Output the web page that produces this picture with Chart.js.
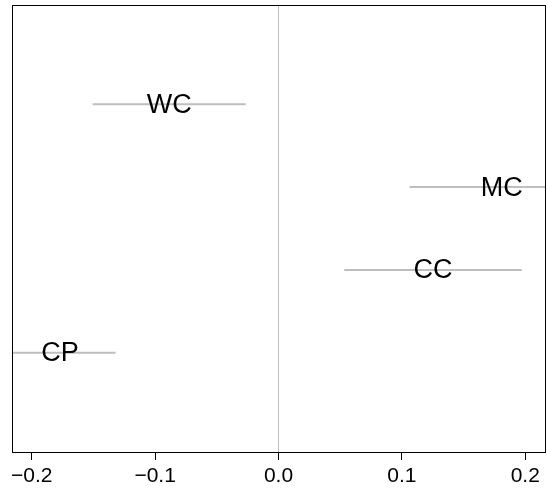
<!DOCTYPE html>
<html>
<head>
<meta charset="utf-8">
<script src="https://cdn.jsdelivr.net/npm/chart.js@4"></script>
<style>
  body { margin: 0; background: #fff; }
  canvas { display: block; }
</style>
</head>
<body>
<canvas id="chart" width="547" height="492"></canvas>
<script>
// groups, top to bottom
const groups = ['WC', 'MC', 'CC', 'CP'];
const rowPos = [4, 3, 2, 1];
const centers = [-0.0886, 0.1810, 0.1253, -0.1770];
const lows = [-0.1507, 0.1063, 0.0533, -0.2220];
const highs = [-0.0265, 0.2557, 0.1972, -0.1320];
const xTicks = [-0.2, -0.1, 0.0, 0.1, 0.2];

const FONT = "'Liberation Sans', Arial, sans-serif";

const datasets = groups.map((g, i) => ({
    label: g,
    data: [{ x: lows[i], y: rowPos[i] }, { x: highs[i], y: rowPos[i] }],
    showLine: true,
    borderColor: '#bebebe',
    borderWidth: 2,
    pointRadius: 0,
}));

// group names written on the segments, plus the box round the plot
const labelPlugin = {
    id: 'labels',
    afterDatasetsDraw(chart) {
        const { ctx, scales } = chart;
        ctx.save();
        ctx.font = '27px ' + FONT;
        ctx.fillStyle = '#000';
        ctx.textAlign = 'center';
        ctx.textBaseline = 'middle';
        groups.forEach((g, i) => {
            ctx.fillText(g, scales.x.getPixelForValue(centers[i]), scales.y.getPixelForValue(rowPos[i]) + 1);
        });
        ctx.restore();
    },
    afterDraw(chart) {
        const a = chart.chartArea;
        const ctx = chart.ctx;
        ctx.save();
        ctx.strokeStyle = '#000';
        ctx.lineWidth = 1;
        ctx.strokeRect(Math.round(a.left) + 0.5, Math.round(a.top) + 0.5,
            Math.round(a.right - a.left), Math.round(a.bottom - a.top));
        ctx.restore();
    }
};

new Chart(document.getElementById('chart'), {
    type: 'scatter',
    data: { datasets: datasets },
    options: {
        responsive: false,
        animation: false,
        layout: { padding: { left: 12, top: 5, right: 2, bottom: 0 } },
        plugins: { legend: { display: false }, tooltip: { enabled: false } },
        scales: {
            x: {
                type: 'linear',
                min: -0.216,
                max: 0.216,
                afterBuildTicks: (scale) => { scale.ticks = xTicks.map(v => ({ value: v })); },
                afterFit: (scale) => { scale.height = 40; },
                border: { display: false },
                grid: {
                    color: (c) => (c.tick && c.tick.value === 0 ? '#bebebe' : 'rgba(0,0,0,0)'),
                    tickColor: '#000',
                    tickLength: 8,
                    lineWidth: 1,
                },
                ticks: {
                    color: '#000',
                    padding: 4,
                    maxRotation: 0,
                    font: { family: FONT, size: 21 },
                    callback: (v) => Number(v).toFixed(1).replace('-', '\u2212'),
                },
            },
            y: {
                type: 'linear',
                display: false,
                min: -0.2,
                max: 5.2,
            },
        },
    },
    plugins: [labelPlugin],
});
</script>
</body>
</html>
